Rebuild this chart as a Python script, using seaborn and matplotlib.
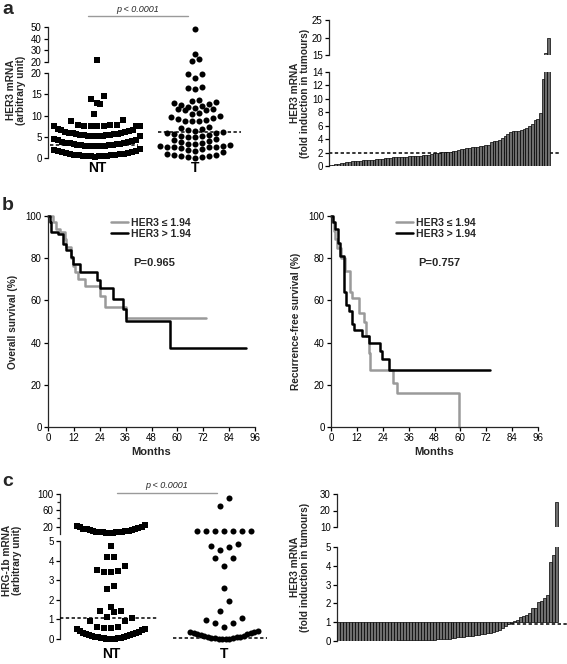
import warnings
warnings.filterwarnings('ignore')
import numpy as np
import pandas as pd
import matplotlib
matplotlib.use('Agg')
import matplotlib.pyplot as plt
from matplotlib.lines import Line2D
import seaborn as sns

sns.set_style('ticks')
plt.rcParams['font.family'] = ['Liberation Sans', 'DejaVu Sans']
plt.rcParams['axes.linewidth'] = 0.9
plt.rcParams['xtick.major.width'] = 0.9
plt.rcParams['ytick.major.width'] = 0.9

# ---------------- data ----------------
groups = ['NT', 'T']
a_nt = [22.0, 14.7, 13.8, 12.9, 12.6, 10.4, 9.0, 8.6,
        7.45, 7.45, 7.47, 7.5, 7.52, 7.55, 7.6, 7.65, 7.7, 7.8,
        5.10, 5.12, 5.15, 5.18, 5.22, 5.26, 5.31, 5.36, 5.42, 5.48, 5.55, 5.62, 5.70, 5.79, 5.88,
        5.98, 6.09, 6.21, 6.35, 6.50, 6.67, 6.87,
        2.75, 2.77, 2.80, 2.83, 2.87, 2.91, 2.96, 3.01, 3.07, 3.13, 3.20, 3.27, 3.35, 3.44, 3.53,
        3.63, 3.74, 3.86, 4.00, 4.15, 4.32, 4.52,
        0.35, 0.37, 0.40, 0.43, 0.47, 0.51, 0.56, 0.61, 0.67, 0.73, 0.80, 0.87, 0.95, 1.04, 1.13,
        1.23, 1.34, 1.46, 1.60, 1.75, 1.92, 2.12]
a_t = [48.0, 27.0, 23.0, 21.0,
       19.8, 19.7, 18.8, 16.7, 16.5, 16.3,
       13.6, 13.4, 13.2, 13.0, 12.8, 12.5, 12.2, 12.0, 11.8, 11.6, 11.5, 11.4, 11.3,
       10.5, 10.3, 9.9, 9.7, 9.4, 9.1, 8.9, 8.8, 8.7, 8.6,
       7.2, 7.0, 6.8, 6.6, 6.4, 6.2, 6.0, 5.8, 5.6, 5.4, 5.2, 5.1, 5.0, 4.9,
       4.5, 4.2, 4.0, 3.8, 3.6, 3.4, 3.2, 3.0, 2.9, 2.8, 2.7, 2.6, 2.55, 2.5,
       2.3, 2.1, 1.9, 1.6, 1.3, 1.0, 0.8, 0.6, 0.5, 0.4, 0.3, 0.2, 0.1]
a_medians = [3.0, 6.1]
a_fold = [0.12, 0.2, 0.28, 0.35, 0.42, 0.5, 0.58, 0.65, 0.7, 0.75, 0.78, 0.8, 0.83, 0.86, 0.9, 0.92,
          0.95, 1.0, 1.05, 1.1, 1.15, 1.2, 1.25, 1.27, 1.3, 1.32, 1.35, 1.37, 1.4, 1.42, 1.45, 1.48,
          1.5, 1.55, 1.58, 1.62, 1.7, 1.85, 1.9, 1.95, 2.0, 2.05, 2.1, 2.12, 2.15, 2.2, 2.3, 2.4,
          2.5, 2.6, 2.7, 2.75, 2.8, 2.85, 2.9, 2.95, 3.0, 3.1, 3.2, 3.6, 3.65, 3.7, 3.9, 4.1,
          4.5, 4.8, 5.1, 5.2, 5.2, 5.25, 5.3, 5.45, 5.6, 5.9, 6.2, 6.8, 7.0, 7.9, 13.0, 15.5, 20.0]
a_cutoff = 1.94

os_low_t = [0, 2.3, 3.9, 5.4, 7.7, 8.5, 10.8, 11.5, 12.4, 13.9, 17.0, 24.0, 26.3, 36.0, 73.2]
os_low_s = [100, 97.2, 94.0, 92.4, 89.3, 85.3, 80.0, 76.1, 73.5, 70.3, 66.7, 61.9, 56.9, 51.7, 51.7]
os_high_t = [0, 0.8, 1.5, 4.6, 7.0, 8.5, 10.8, 11.6, 14.7, 22.9, 24.0, 30.2, 34.8, 36.0, 56.8, 91.8]
os_high_s = [100, 97.0, 92.4, 91.6, 86.9, 83.7, 80.6, 77.4, 73.5, 69.5, 65.7, 60.8, 56.0, 50.2, 37.6, 37.6]

rfs_low_t = [0, 0.6, 1.2, 2.0, 3.0, 4.6, 6.6, 8.6, 9.7, 12.8, 15.4, 16.3, 17.4, 18.2, 28.7, 30.8, 59.5]
rfs_low_s = [100, 97, 93, 89, 85, 80, 74, 64, 61, 54, 50, 43, 35, 27, 21, 16, 0]
rfs_high_t = [0, 0.8, 2.0, 3.1, 4.0, 5.9, 6.9, 8.2, 9.7, 10.5, 14.3, 17.4, 22.8, 23.7, 27.1, 73.7]
rfs_high_s = [100, 97, 94, 87, 81, 64, 58, 55, 49, 46, 43, 40, 36, 32, 27, 27]

c_nt = [5.2, 5.3, 5.5, 5.8, 6.1, 6.5, 7.0, 7.5, 8.1, 8.8, 9.5, 10.3, 11.2, 12.1, 13.1, 14.2, 15.4,
        16.7, 18.1, 19.6, 21.2, 22.9,
        4.75, 4.2, 4.2, 3.75, 3.5, 3.4, 3.4, 3.45, 2.7, 2.55, 1.65, 1.45, 1.4, 1.45, 1.1, 1.05,
        0.9, 0.9, 0.6, 0.55, 0.5, 0.5, 0.55, 0.6,
        0.0, 0.005, 0.01, 0.02, 0.03, 0.04, 0.055, 0.07, 0.085, 0.1, 0.12, 0.14, 0.16, 0.185,
        0.21, 0.24, 0.27, 0.3, 0.33, 0.37, 0.41, 0.45]
c_t = [90.0, 70.0, 9.5, 9.5, 9.5, 9.5, 9.5, 9.5, 9.5,
       4.85, 4.75, 4.7, 4.55, 4.15, 4.15, 3.75, 2.6, 1.95, 1.45, 1.05, 0.95, 0.8, 0.8, 0.6,
       0.0, 0.005, 0.01, 0.02, 0.03, 0.045, 0.06, 0.08, 0.1, 0.12, 0.145, 0.17, 0.2, 0.23,
       0.26, 0.29, 0.32, 0.35, 0.38, 0.42]
c_medians = [1.05, 0.05]
c_fold = [0.01, 0.01, 0.01, 0.01, 0.01, 0.01, 0.01, 0.01, 0.01, 0.01, 0.01, 0.02, 0.02, 0.02,
          0.02, 0.02, 0.02, 0.02, 0.02, 0.02, 0.03, 0.03, 0.03, 0.03, 0.03, 0.03, 0.04, 0.04,
          0.04, 0.05, 0.05, 0.06, 0.07, 0.08, 0.09, 0.1, 0.11, 0.13, 0.15, 0.17, 0.19, 0.21,
          0.23, 0.25, 0.27, 0.29, 0.31, 0.33, 0.36, 0.38, 0.4, 0.43, 0.47, 0.52, 0.6, 0.7, 0.8,
          0.9, 0.95, 1.05, 1.1, 1.3, 1.35, 1.4, 1.5, 1.75, 1.75, 2.05, 2.15, 2.3, 2.45, 4.2, 4.6, 25.0]
c_cutoff = 0.9

# ---------------- layout helpers ----------------
W, H = 567, 664
fig = plt.figure(figsize=(W / 100, H / 100), dpi=100)
BAR_FACE = '#6e6e6e'
GRAY = '#9a9a9a'
TICK_FS = 7
LAB_FS = 7.3


def add_ax(x0, y0, x1, y1):
    ax = fig.add_axes([x0 / W, 1 - y1 / H, (x1 - x0) / W, (y1 - y0) / H])
    ax.set_facecolor('none')
    for s in ['top', 'right']:
        ax.spines[s].set_visible(False)
    ax.tick_params(direction='out', length=3, width=0.9, labelsize=TICK_FS, pad=1.5, colors='black')
    return ax


def ftext(x, y, s, **kw):
    fig.text(x / W, 1 - y / H, s, ha=kw.pop('ha', 'center'), va=kw.pop('va', 'center'), **kw)


def fline(x0, x1, y, **kw):
    fig.add_artist(Line2D([x0 / W, x1 / W], [1 - y / H, 1 - y / H], transform=fig.transFigure, **kw))


def row_layout(vals, cat_pos, row_h, sp_max, width_max, px_per_x):
    """Prism-like scatter layout: values are grouped into rows of height row_h,
    each row is spread horizontally with its lowest values nearest the centre."""
    vals = np.asarray(vals, float)
    order = np.argsort(vals, kind='stable')
    xs = np.zeros(len(vals))
    i = 0
    while i < len(order):
        j = i
        while j < len(order) and vals[order[j]] - vals[order[i]] < row_h:
            j += 1
        idx = order[i:j]
        n = len(idx)
        sp = sp_max if n < 2 else min(sp_max, width_max / (n - 1))
        slots = (np.arange(n) - (n - 1) / 2) * sp
        slots = slots[np.argsort(np.abs(slots), kind='stable')]
        xs[idx] = cat_pos + slots / px_per_x
        i = j
    return xs


def scatter_panel(upper_box, lower_box, nt, t, up_lim, low_lim, up_ticks, low_ticks, medians,
                  med_spans, xlim, style, minor=None, label_pad=2):
    axu = add_ax(*upper_box)
    axl = add_ax(*lower_box)
    split = low_lim[1]
    px_per_x = (upper_box[2] - upper_box[0]) / (xlim[1] - xlim[0])
    for ax, box, (lo, hi), keep in [(axu, upper_box, up_lim, lambda x: x > split),
                                    (axl, lower_box, low_lim, lambda x: x <= split)]:
        px_per_y = (box[3] - box[1]) / (hi - lo)
        for pos, (vals, marker) in enumerate([(nt, 's'), (t, 'o')]):
            v = [x for x in vals if keep(x)]
            st = style[pos]
            xs = row_layout(v, pos, st['row'] / px_per_y, st['sp'], st['width'], px_per_x)
            sns.scatterplot(x=xs, y=v, marker=marker, s=st['s'], color='black', linewidth=0,
                            ax=ax, clip_on=False, legend=False, zorder=4)
        ax.set_ylim(lo, hi)
        ax.set_xlim(*xlim)
        ax.set_xlabel('')
        ax.set_ylabel('')
        ax.spines['bottom'].set_visible(False)
    axu.set_yticks(up_ticks)
    if minor is not None:
        axu.set_yticks(minor, minor=True)
        axu.tick_params(which='minor', direction='out', length=2, width=0.9)
    axl.set_yticks(low_ticks)
    axu.set_xticks([])
    axl.set_xticks([0, 1])
    axl.set_xticklabels(groups, fontsize=10, fontweight='bold')
    axl.tick_params(axis='x', length=0, pad=label_pad)
    for m, (x0, x1) in zip(medians, med_spans):
        axl.hlines(m, x0, x1, colors='black', linestyles=(0, (2.2, 1.6)), lw=1.1, zorder=5)
    return axu, axl


# ---------------- panel a ----------------
a_style = [dict(row=10, sp=6.5, width=86, s=16), dict(row=6, sp=7, width=84, s=19)]
scatter_panel((48, 27, 244, 62), (48, 73, 244, 158), a_nt, a_t, (20, 50), (0, 20),
              [20, 30, 40, 50], [0, 5, 10, 15, 20], a_medians,
              [(-0.48, 0.42), (0.62, 1.47)], (-0.5, 1.5), a_style)
fline(88, 188, 16, color=GRAY, lw=1.0)
ftext(138, 9, 'p < 0.0001', fontsize=6.5, style='italic')
ftext(16, 90, 'HER3 mRNA\n(arbitrary unit)', fontsize=LAB_FS, fontweight='bold', rotation=90,
      linespacing=1.0)

# bar chart a (seaborn)
axu = add_ax(329, 20, 560, 55)
axl = add_ax(329, 72, 560, 166)
bar_df = pd.DataFrame({'rank': list(range(len(a_fold))), 'fold': a_fold})
for ax, (lo, hi) in [(axu, (15, 25)), (axl, (0, 14))]:
    sns.barplot(data=bar_df, x='rank', y='fold', color=BAR_FACE, saturation=1, width=1.0,
                edgecolor='black', linewidth=0.5, errorbar=None, ax=ax, zorder=3)
    ax.set_ylim(lo, hi)
    ax.set_xlim(-0.5, len(a_fold) + 3.2)
    ax.set_xticks([])
    ax.set_xlabel('')
    ax.set_ylabel('')
    ax.spines['bottom'].set_visible(False)
axl.axhline(a_cutoff, color='black', linestyle=(0, (2.2, 1.6)), lw=1.1, zorder=1)
axu.set_yticks([15, 20, 25])
axl.set_yticks(list(range(0, 15, 2)))
ftext(300, 93, 'HER3 mRNA\n(fold induction in tumours)', fontsize=LAB_FS, fontweight='bold',
      rotation=90, linespacing=1.0)


# ---------------- panel b ----------------
def km_panel(box, lo_t, lo_s, hi_t, hi_s, ylabel, ptext, leg_xy, p_xy):
    ax = add_ax(*box)
    sns.lineplot(x=lo_t, y=lo_s, drawstyle='steps-post', color=GRAY, lw=1.8, ax=ax,
                 estimator=None, sort=False, label='HER3 \u2264 1.94', clip_on=False)
    sns.lineplot(x=hi_t, y=hi_s, drawstyle='steps-post', color='black', lw=1.8, ax=ax,
                 estimator=None, sort=False, label='HER3 > 1.94', clip_on=False)
    ax.set_xlim(0, 96)
    ax.set_ylim(0, 100)
    ax.set_xticks(list(range(0, 97, 12)))
    ax.set_yticks(list(range(0, 101, 20)))
    ax.set_xlabel('Months', fontsize=8, fontweight='bold', labelpad=3)
    ax.set_ylabel('')
    ax.legend(loc='upper left', bbox_to_anchor=(leg_xy[0] / W, 1 - leg_xy[1] / H),
              bbox_transform=fig.transFigure, frameon=False, handlelength=1.6,
              handletextpad=0.3, labelspacing=0.05, borderpad=0, borderaxespad=0,
              prop={'weight': 'bold', 'size': 7.5})
    ftext(p_xy[0], p_xy[1], ptext, fontsize=8, fontweight='bold', ha='left')
    ftext(box[0] - 35, (box[1] + box[3]) / 2, ylabel, fontsize=LAB_FS, fontweight='bold', rotation=90)
    return ax


km_panel((48, 216, 255, 427), os_low_t, os_low_s, os_high_t, os_high_s, 'Overall survival (%)',
         'P=0.965', (111, 218), (133, 263))
km_panel((331, 216, 538, 427), rfs_low_t, rfs_low_s, rfs_high_t, rfs_high_s,
         'Recurrence-free survival (%)', 'P=0.757', (396, 218), (418, 263))

# ---------------- panel c ----------------
c_style = [dict(row=10, sp=7, width=68, s=15), dict(row=10, sp=9, width=68, s=19)]
scatter_panel((60, 494, 267, 534), (60, 541, 267, 639), c_nt, c_t, (2, 100), (0, 5),
              [20, 60, 100], [0, 1, 2, 3, 4, 5], c_medians,
              [(-0.45, 0.42), (0.55, 1.38)], (-0.45, 1.38), c_style, minor=[40, 80], label_pad=6)
fline(117, 217, 493, color=GRAY, lw=1.0)
ftext(167, 486, 'p < 0.0001', fontsize=6.5, style='italic')
ftext(12, 560, 'HRG-1b mRNA\n(arbitrary unit)', fontsize=LAB_FS, fontweight='bold', rotation=90,
      linespacing=1.0)

# bar chart c: bars drawn from the 1-fold baseline
axu = add_ax(337, 494, 567, 527)
axl = add_ax(337, 547, 567, 641)
idx = list(range(len(c_fold)))
for ax, (lo, hi) in [(axu, (10, 30)), (axl, (0, 5))]:
    ax.bar(idx, [v - 1.0 for v in c_fold], bottom=1.0, width=1.0, color=BAR_FACE,
           edgecolor='black', linewidth=0.5, zorder=3)
    ax.set_ylim(lo, hi)
    ax.set_xlim(-0.5, len(c_fold) + 2.5)
    ax.set_xticks([])
    ax.spines['bottom'].set_visible(False)
axl.axhline(c_cutoff, color='black', linestyle=(0, (2.2, 1.6)), lw=1.1, zorder=1)
axu.set_yticks([10, 20, 30])
axl.set_yticks([0, 1, 2, 3, 4, 5])
ftext(300, 567, 'HER3 mRNA\n(fold induction in tumours)', fontsize=LAB_FS, fontweight='bold',
      rotation=90, linespacing=1.0)

# panel letters
ftext(8, 10, 'a', fontsize=14, fontweight='bold')
ftext(8, 205, 'b', fontsize=14, fontweight='bold')
ftext(8, 482, 'c', fontsize=14, fontweight='bold')

fig.savefig('out.png', dpi=100)
